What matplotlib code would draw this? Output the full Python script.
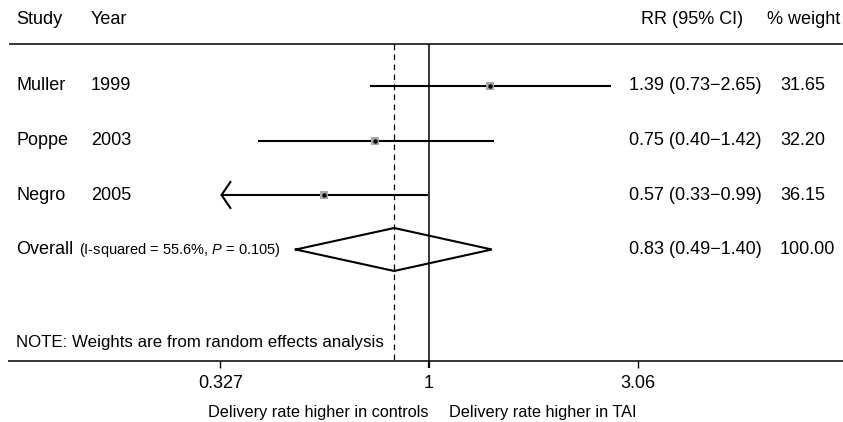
import numpy as np
import matplotlib
matplotlib.use("Agg")
import matplotlib.pyplot as plt

plt.rcParams['font.family'] = ['Liberation Sans', 'DejaVu Sans']
plt.rcParams['mathtext.fontset'] = 'custom'
plt.rcParams['mathtext.rm'] = 'Liberation Sans'
plt.rcParams['mathtext.it'] = 'Liberation Sans:italic'

# data
studies = ["Muller", "Poppe", "Negro"]
years = ["1999", "2003", "2005"]
rr = [1.39, 0.75, 0.57]
ci_low = [0.73, 0.40, 0.33]
ci_high = [2.65, 1.42, 0.99]
weights = ["31.65", "32.20", "36.15"]
truncated = [False, False, True]

overall_rr = 0.83
overall_low = 0.49
overall_high = 1.40
overall_weight = "100.00"
i_squared = "55.6%"
p_value = "0.105"

xticks = [0.327, 1, 3.06]
xticklabels = ["0.327", "1", "3.06"]

W, H = 843, 422
fig = plt.figure(figsize=(W / 100, H / 100), dpi=100)
ax = fig.add_axes([0, 0, 1, 1])
ax.set_xscale('log')
# 1 sits at pixel 429, 430 pixels per decade
ax.set_xlim(10 ** (-429 / 430), 10 ** ((W - 429) / 430))
ax.set_ylim(H, 0)
ax.axis('off')

ty = ax.get_yaxis_transform()  # x in axes fraction, y in data (pixels from top)


def px(x):
    return x / W


fs = 13
y_top, y_axis = 44, 361
rows = [86 + 54.5 * i for i in range(len(studies) + 1)]

# headers
ax.text(px(16), 19, "Study", transform=ty, fontsize=fs, va='center')
ax.text(px(91), 19, "Year", transform=ty, fontsize=fs, va='center')
ax.text(px(641), 19, "RR (95% CI)", transform=ty, fontsize=fs, va='center')
ax.text(px(767), 19, "% weight", transform=ty, fontsize=fs, va='center')

ax.hlines(y_top, px(9), 1, transform=ty, color='black', lw=1.1)
ax.hlines(y_axis, px(8), 1, transform=ty, color='black', lw=1.1)

# reference lines
ax.vlines(1, y_top, y_axis, color='black', lw=1.1)
ax.vlines(overall_rr, y_top, y_axis, color='black', lw=0.9,
          linestyles=(0, (4.5, 3.5)))

xmin_clip = xticks[0]
for i, name in enumerate(studies):
    y = rows[i]
    ax.text(px(16), y, name, transform=ty, fontsize=fs, va='center')
    ax.text(px(91), y, years[i], transform=ty, fontsize=fs, va='center')
    if truncated[i]:
        ax.annotate("", xy=(xmin_clip, y), xytext=(ci_high[i], y),
                    arrowprops=dict(arrowstyle="->,head_length=0.65,head_width=0.95",
                                    lw=1.5, color='black', mutation_scale=10,
                                    shrinkA=0, shrinkB=0))
    else:
        ax.plot([ci_low[i], ci_high[i]], [y, y], color='black', lw=1.5,
                solid_capstyle='butt')
    ax.plot(rr[i], y, marker='s', ms=5.5, color='#a8a8a8', mew=0, zorder=3)
    ax.plot(rr[i], y, marker='o', ms=3.2, color='black', mew=0, zorder=4)
    ax.text(px(629), y, f"{rr[i]:.2f} ({ci_low[i]:.2f}\u2212{ci_high[i]:.2f})",
            transform=ty, fontsize=fs, va='center')
    ax.text(px(780), y, weights[i], transform=ty, fontsize=fs, va='center')

# overall diamond
yo = rows[-1]
hh = 21.5
ax.plot([overall_low, overall_rr, overall_high, overall_rr, overall_low],
        [yo, yo - hh, yo, yo + hh, yo], color='black', lw=1.5,
        solid_joinstyle='miter')
ax.text(px(16), yo, "Overall", transform=ty, fontsize=fs, va='center')
ax.text(px(79), yo + 0.5, f"(I-squared = {i_squared}, $P$ = {p_value})",
        transform=ty, fontsize=10.5, va='center')
ax.text(px(629), yo, f"{overall_rr:.2f} ({overall_low:.2f}\u2212{overall_high:.2f})",
        transform=ty, fontsize=fs, va='center')
ax.text(px(780), yo, overall_weight, transform=ty, fontsize=fs, va='center')

ax.text(px(16), 342, "NOTE: Weights are from random effects analysis",
        transform=ty, fontsize=12.2, va='center')

# x axis ticks
for t, lab in zip(xticks, xticklabels):
    ax.vlines(t, y_axis, y_axis + 7, color='black', lw=1.6 if t == 1 else 1.0)
    ax.text(t, 384, lab, fontsize=fs, ha='center', va='center')

ax.text(px(428), 413, "Delivery rate higher in controls", transform=ty,
        fontsize=11.7, ha='right', va='center')
ax.text(px(449), 413, "Delivery rate higher in TAI", transform=ty,
        fontsize=11.7, ha='left', va='center')

fig.savefig("out.png", dpi=100, facecolor='white')
